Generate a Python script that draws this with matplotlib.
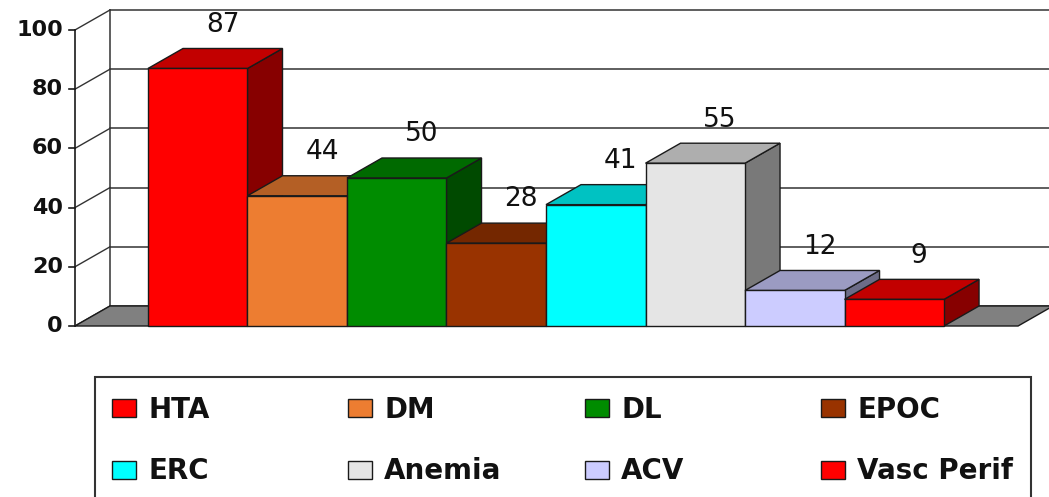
import matplotlib
matplotlib.use("Agg")
import matplotlib.pyplot as plt
from matplotlib.patches import Polygon, Rectangle, Patch
from matplotlib.colors import to_rgb

# Data
categories = ["HTA", "DM", "DL", "EPOC", "ERC", "Anemia", "ACV", "Vasc Perif"]
values = [87, 44, 50, 28, 41, 55, 12, 9]
y_ticks = [0, 20, 40, 60, 80, 100]
bar_colors = ["#FF0000", "#ED7D31", "#008C00", "#993300",
              "#00FFFF", "#E5E5E5", "#CCCCFF", "#FF0000"]

# 3D look: depth offsets in data units
DX = 0.352
DY = 6.76
AXIS_X = -0.734              # front vertical axis position
X_END = len(values) + 0.744  # right end of the floor (front)


def shade(color, f):
    r, g, b = to_rgb(color)
    return (r * f, g * f, b * f)


fig = plt.figure(figsize=(10.49, 4.97), dpi=100)
ax = fig.add_axes([0, 0, 1, 1])
ax.set_xlim(-1.487, 9.055)
ax.set_ylim(-57.77, 110.14)
ax.axis("off")

edge = "#1a1a1a"

# back wall gridlines, depth diagonals, ticks and tick labels
for v in y_ticks:
    ax.plot([AXIS_X + DX, X_END + DX + 0.5], [v + DY, v + DY],
            color="#333333", lw=1.1, zorder=1)
    ax.plot([AXIS_X, AXIS_X + DX], [v, v + DY], color="#333333", lw=1.0, zorder=1)
    ax.plot([AXIS_X - 0.06, AXIS_X], [v, v], color=edge, lw=1.2, zorder=3)
    ax.text(AXIS_X - 0.12, v, str(v), ha="right", va="center",
            fontsize=16, fontweight="bold", family="DejaVu Sans", color="#111111")
ax.plot([AXIS_X + DX, AXIS_X + DX], [DY, 100 + DY], color="#333333", lw=1.1, zorder=1)
ax.plot([AXIS_X, AXIS_X], [0, 100], color=edge, lw=1.2, zorder=3)

# floor
floor = Polygon([(AXIS_X, 0), (X_END, 0), (X_END + DX, DY), (AXIS_X + DX, DY)],
                closed=True, facecolor="#808080", edgecolor=edge, lw=1.0, zorder=2)
ax.add_patch(floor)

# 3D bars, drawn left to right so later bars hide earlier side faces
for i, (v, c) in enumerate(zip(values, bar_colors)):
    z = 4 + i
    side = Polygon([(i + 1, 0), (i + 1 + DX, DY), (i + 1 + DX, v + DY), (i + 1, v)],
                   closed=True, facecolor=shade(c, 0.53), edgecolor=edge, lw=1.0, zorder=z)
    top = Polygon([(i, v), (i + 1, v), (i + 1 + DX, v + DY), (i + DX, v + DY)],
                  closed=True, facecolor=shade(c, 0.76), edgecolor=edge, lw=1.0, zorder=z)
    front = Rectangle((i, 0), 1, v, facecolor=c, edgecolor=edge, lw=1.0, zorder=z)
    for p in (side, top, front):
        ax.add_patch(p)
    ax.text(i + 0.75, v + DY + 8.0, str(v), ha="center", va="center",
            fontsize=19, family="DejaVu Sans", color="#111111", zorder=20)

# legend frame
fig.add_artist(Rectangle((95 / 1049, -0.1), (1031 - 95) / 1049, 0.1 + 1 - 377 / 497,
                         transform=fig.transFigure, fill=False,
                         edgecolor="#333333", lw=1.5))

# legend: four columns of two entries each
handles = [Patch(facecolor=c, edgecolor=edge, lw=1.0) for c in bar_colors]
col_x = [112, 348, 585, 821]
for j, x in enumerate(col_x):
    leg = fig.legend([handles[j], handles[j + 4]], [categories[j], categories[j + 4]],
                     loc="upper left", bbox_to_anchor=(x / 1049, 1 - 396 / 497),
                     bbox_transform=fig.transFigure, frameon=False, borderpad=0,
                     borderaxespad=0, handlelength=0.85, handleheight=0.62,
                     handletextpad=0.45, labelspacing=1.2,
                     prop={"family": "DejaVu Sans", "weight": "bold", "size": 20})
    for t in leg.get_texts():
        t.set_color("#111111")

fig.savefig("out.png", dpi=100)
